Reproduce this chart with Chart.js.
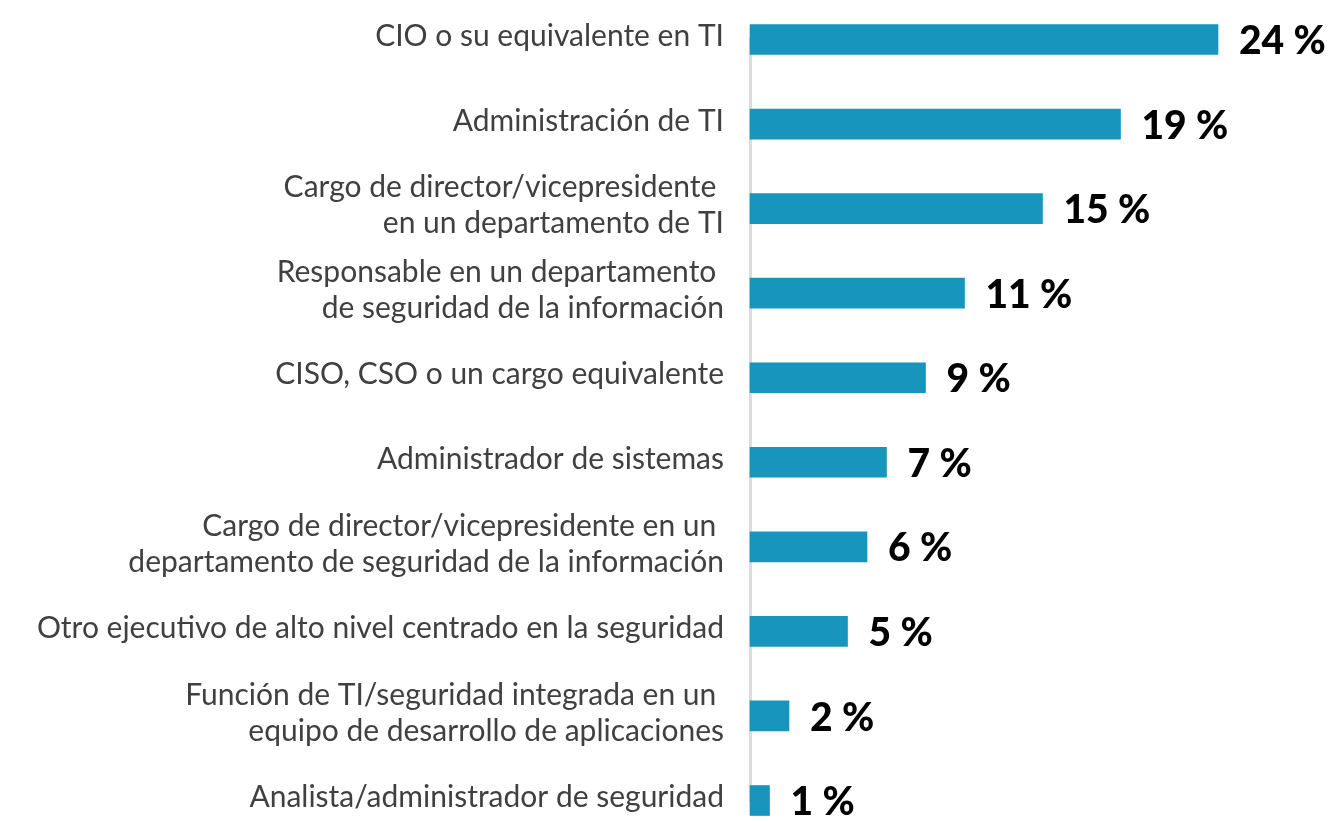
<!DOCTYPE html>
<html>
<head>
<meta charset="utf-8">
<script src="https://cdn.jsdelivr.net/npm/chart.js@4"></script>
<style>
html,body{margin:0;padding:0;background:#fff;}
#wrap{width:1343px;height:823px;position:relative;}
</style>
</head>
<body>
<div id="wrap"><canvas id="c" width="1343" height="823"></canvas></div>
<script>
const categories = [
  ["CIO o su equivalente en TI"],
  ["Administración de TI"],
  ["Cargo de director/vicepresidente ", "en un departamento de TI"],
  ["Responsable en un departamento ", "de seguridad de la información"],
  ["CISO, CSO o un cargo equivalente"],
  ["Administrador de sistemas"],
  ["Cargo de director/vicepresidente en un ", "departamento de seguridad de la información"],
  ["Otro ejecutivo de alto nivel centrado en la seguridad"],
  ["Función de TI/seguridad integrada en un ", "equipo de desarrollo de aplicaciones"],
  ["Analista/administrador de seguridad"]
];
const values = [24, 19, 15, 11, 9, 7, 6, 5, 2, 1];
const valueLabels = ["24 %", "19 %", "15 %", "11 %", "9 %", "7 %", "6 %", "5 %", "2 %", "1 %"];

const FONT = "'Source Sans Pro', Lato, 'Open Sans', sans-serif";

const valueLabelPlugin = {
  id: 'valueLabels',
  afterDatasetsDraw(chart) {
    const ctx = chart.ctx;
    const meta = chart.getDatasetMeta(0);
    ctx.save();
    ctx.font = "900 39px " + FONT;
    ctx.fillStyle = '#000';
    ctx.textAlign = 'left';
    ctx.textBaseline = 'middle';
    meta.data.forEach((bar, i) => {
      ctx.fillText(valueLabels[i], bar.x + 21, bar.y + 2);
    });
    ctx.restore();
  }
};

new Chart(document.getElementById('c'), {
  type: 'bar',
  data: {
    labels: categories,
    datasets: [{
      data: values,
      backgroundColor: '#1795bd',
      borderWidth: 0,
      barThickness: 30,
      clip: false
    }]
  },
  options: {
    indexAxis: 'y',
    responsive: false,
    animation: false,
    layout: { padding: { top: 39.5, bottom: 22.5, left: 0, right: 8 } },
    plugins: { legend: { display: false }, tooltip: { enabled: false } },
    scales: {
      x: {
        min: 0, max: 30,
        display: false,
        grid: { display: false }
      },
      y: {
        offset: false,
        grid: { display: false, drawTicks: false },
        border: { display: true, color: '#dcdcdc', width: 3 },
        ticks: {
          padding: 26,
          labelOffset: -3,
          color: '#404040',
          font: { family: FONT, size: 30, lineHeight: 1.2 },
          autoSkip: false
        },
        afterFit(scale) {
          scale.width = 750;
          scale.paddingTop = 0;
          scale.paddingBottom = 0;
        }
      }
    }
  },
  plugins: [valueLabelPlugin]
});
</script>
</body>
</html>
